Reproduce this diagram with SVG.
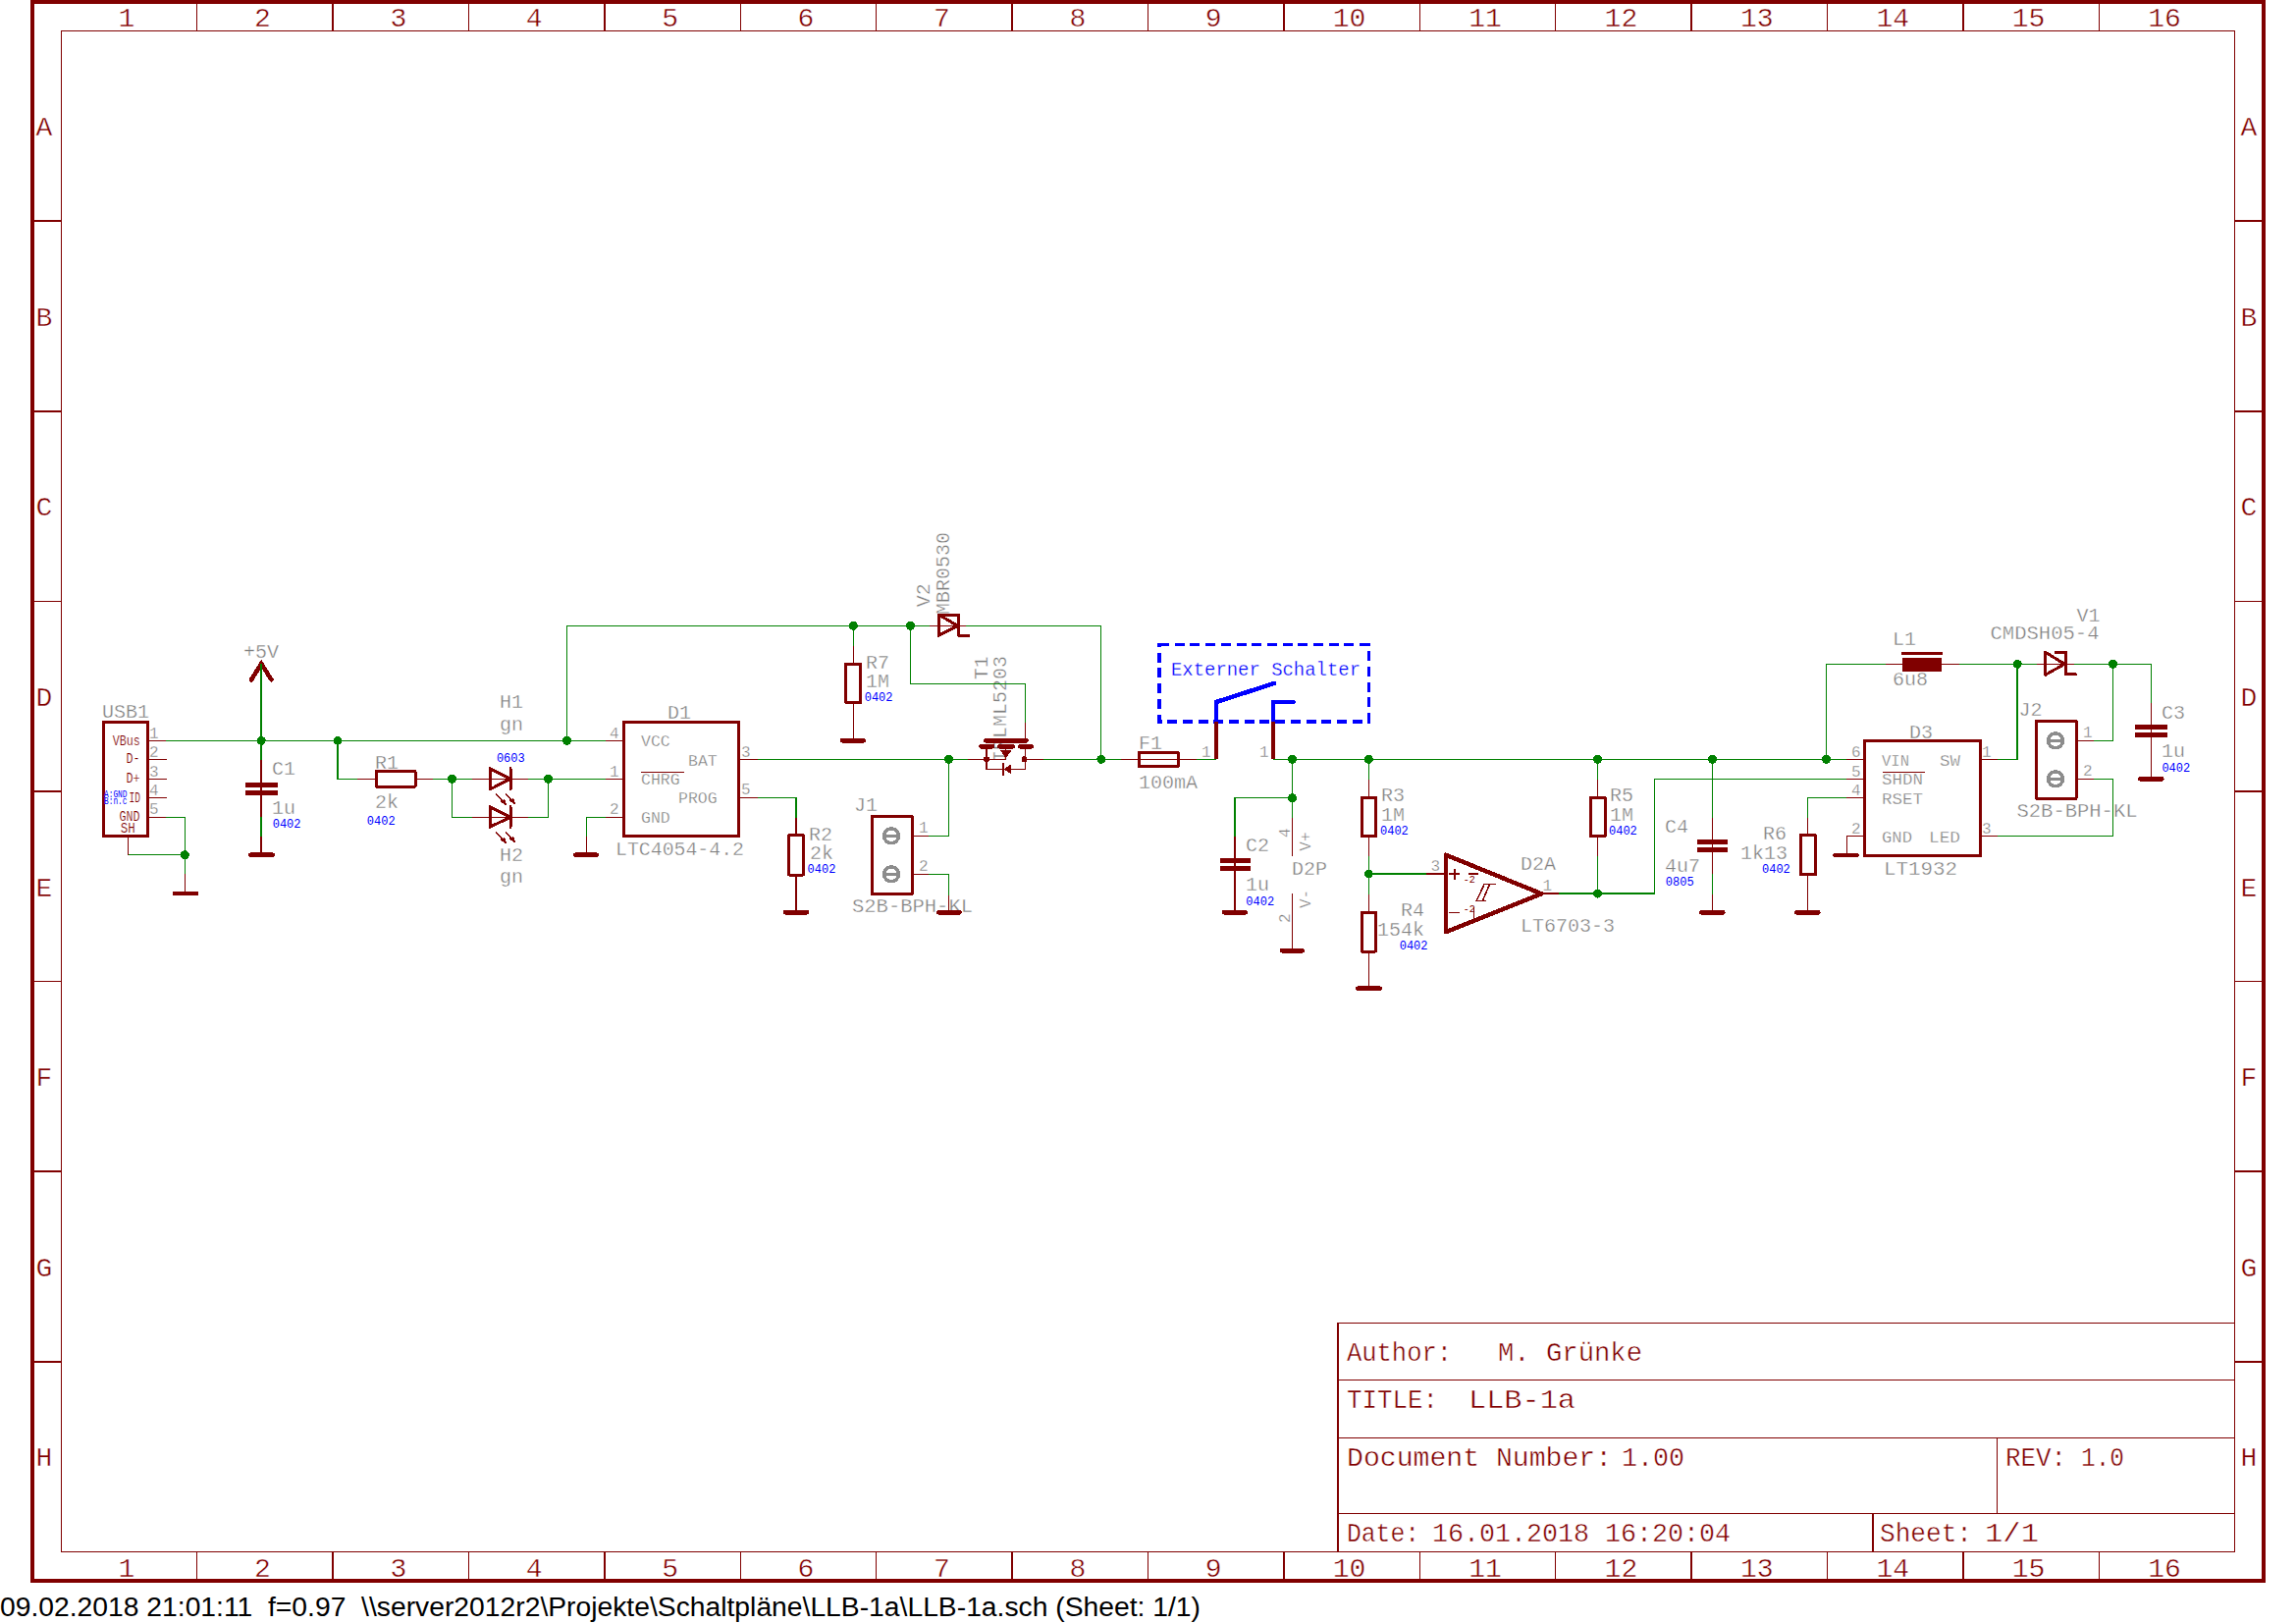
<svg xmlns="http://www.w3.org/2000/svg" width="2339" height="1654" viewBox="0 0 2339 1654" shape-rendering="crispEdges">
<style>
text{font-family:"Liberation Mono","DejaVu Sans Mono",monospace;white-space:pre}
.w{fill:none;stroke:#008000;stroke-width:1.5}
.p{fill:none;stroke:#800000;stroke-width:1.5}
.s{fill:none;stroke:#800000;stroke-width:3;stroke-linejoin:round;stroke-linecap:round}
.f{fill:#800000;stroke:none}
.g{fill:none;stroke:#800000;stroke-width:4.5;stroke-linecap:round}
.j{fill:#008000}
.t{fill:#808080;font-size:20px;stroke:#fff;stroke-width:.35}
.i{fill:#808080;font-size:16.5px;stroke:#fff;stroke-width:.3}
.n{fill:#808080;font-size:16px;stroke:#fff;stroke-width:.3}
.b{fill:#0000ff;font-size:12px}
.bs{fill:#0000ff;font-size:10px}
.u{fill:#800000;font-size:14px;stroke:#fff;stroke-width:.2}
.tb{fill:#800000;font-size:28px;stroke:#fff;stroke-width:.45}
.fl{fill:none;stroke:#800000;stroke-width:1.5}
.fo{fill:none;stroke:#800000;stroke-width:4}
.pad{fill:#fff;stroke:#8c8c8c;stroke-width:3.5}
.padl{stroke:#8c8c8c;stroke-width:3}
.bl{fill:none;stroke:#0000ff;stroke-width:4.5;stroke-linejoin:round;stroke-linecap:round}
</style>
<defs>
<g id="ledarrows">
<path class="p" d="M0 0L9 10M10 0L18 9"/>
<path class="f" d="M11.5 12.5L5 8.5L9 5ZM20.5 11.5L14 7.5L18 4Z"/>
</g>
<g id="pad">
<circle class="pad" r="7.5"/>
<path class="padl" d="M-7 0H7"/>
</g>
</defs>

<g id="frame">
<rect class="fo" x="33" y="2.3" width="2273.3" height="1607.7"/>
<rect class="fl" x="62.3" y="31.3" width="2214.4" height="1549"/>
<path class="fl" d="M200.7 2.3V31.3M339.1 2.3V31.3M477.5 2.3V31.3M615.9 2.3V31.3M754.3 2.3V31.3M892.7 2.3V31.3M1031.1 2.3V31.3M1169.5 2.3V31.3M1307.9 2.3V31.3M1446.3 2.3V31.3M1584.7 2.3V31.3M1723.1 2.3V31.3M1861.5 2.3V31.3M1999.9 2.3V31.3M2138.3 2.3V31.3"/>
<path class="fl" d="M200.7 1580.3V1610M339.1 1580.3V1610M477.5 1580.3V1610M615.9 1580.3V1610M754.3 1580.3V1610M892.7 1580.3V1610M1031.1 1580.3V1610M1169.5 1580.3V1610M1307.9 1580.3V1610M1446.3 1580.3V1610M1584.7 1580.3V1610M1723.1 1580.3V1610M1861.5 1580.3V1610M1999.9 1580.3V1610M2138.3 1580.3V1610"/>
<path class="fl" d="M33 225.2H62.3M33 418.8H62.3M33 612.4H62.3M33 806H62.3M33 999.6H62.3M33 1193.2H62.3M33 1386.8H62.3"/>
<path class="fl" d="M2276.7 225.2H2306.3M2276.7 418.8H2306.3M2276.7 612.4H2306.3M2276.7 806H2306.3M2276.7 999.6H2306.3M2276.7 1193.2H2306.3M2276.7 1386.8H2306.3"/>
<g class="tb" text-anchor="middle">
<text x="129" y="27">1</text><text x="267.4" y="27">2</text><text x="405.8" y="27">3</text><text x="544.2" y="27">4</text><text x="682.6" y="27">5</text><text x="821" y="27">6</text><text x="959.4" y="27">7</text><text x="1097.8" y="27">8</text><text x="1236.2" y="27">9</text><text x="1374.6" y="27">10</text><text x="1513" y="27">11</text><text x="1651.4" y="27">12</text><text x="1789.8" y="27">13</text><text x="1928.2" y="27">14</text><text x="2066.6" y="27">15</text><text x="2205" y="27">16</text>
<text x="129" y="1606">1</text><text x="267.4" y="1606">2</text><text x="405.8" y="1606">3</text><text x="544.2" y="1606">4</text><text x="682.6" y="1606">5</text><text x="821" y="1606">6</text><text x="959.4" y="1606">7</text><text x="1097.8" y="1606">8</text><text x="1236.2" y="1606">9</text><text x="1374.6" y="1606">10</text><text x="1513" y="1606">11</text><text x="1651.4" y="1606">12</text><text x="1789.8" y="1606">13</text><text x="1928.2" y="1606">14</text><text x="2066.6" y="1606">15</text><text x="2205" y="1606">16</text>
<text x="45" y="138">A</text><text x="45" y="332">B</text><text x="45" y="525">C</text><text x="45" y="719">D</text><text x="45" y="913">E</text><text x="45" y="1106">F</text><text x="45" y="1300">G</text><text x="45" y="1493">H</text>
<text x="2291" y="138">A</text><text x="2291" y="332">B</text><text x="2291" y="525">C</text><text x="2291" y="719">D</text><text x="2291" y="913">E</text><text x="2291" y="1106">F</text><text x="2291" y="1300">G</text><text x="2291" y="1493">H</text>
</g>
</g>

<g id="titleblock">
<path class="fl" d="M1363 1580V1347.3H2276.7M1363 1405.3H2276.7M1363 1464.3H2276.7M1363 1541.3H2276.7M2034.4 1464.3V1541.3M1908 1541.3V1580"/>
<g class="tb">
<text x="1372" y="1386" textLength="107" lengthAdjust="spacingAndGlyphs">Author:</text>
<text x="1526" y="1386" textLength="147" lengthAdjust="spacingAndGlyphs">M. Grünke</text>
<text x="1372" y="1434.3" textLength="93" lengthAdjust="spacingAndGlyphs">TITLE:</text>
<text x="1496" y="1434.3" textLength="109" lengthAdjust="spacingAndGlyphs">LLB-1a</text>
<text x="1372" y="1493.3" textLength="270" lengthAdjust="spacingAndGlyphs">Document Number:</text>
<text x="1652" y="1493.3" textLength="64" lengthAdjust="spacingAndGlyphs">1.00</text>
<text x="2043" y="1493.3" textLength="62" lengthAdjust="spacingAndGlyphs">REV:</text>
<text x="2120" y="1493.3" textLength="44" lengthAdjust="spacingAndGlyphs">1.0</text>
<text x="1372" y="1570" textLength="74" lengthAdjust="spacingAndGlyphs">Date:</text>
<text x="1459" y="1570" textLength="304" lengthAdjust="spacingAndGlyphs">16.01.2018 16:20:04</text>
<text x="1915" y="1570" textLength="94" lengthAdjust="spacingAndGlyphs">Sheet:</text>
<text x="2022" y="1570" textLength="55" lengthAdjust="spacingAndGlyphs">1/1</text>
</g>
</g>

<g id="USB1">
<rect class="s" x="105.3" y="735" width="45.1" height="116.7"/>
<path class="p" d="M150.4 754.3H169M150.4 773.3H170M150.4 793.3H170M150.4 812.3H170M150.4 832.3H169M130.6 851.7V870.7"/>
<text class="t" x="104" y="730.7">USB1</text>
<text class="n" x="152" y="751.7">1</text><text class="n" x="152" y="770.7">2</text><text class="n" x="152" y="790.7">3</text><text class="n" x="152" y="810">4</text><text class="n" x="152" y="829.3">5</text>
<text class="u" x="114.8" y="758.7" textLength="28" lengthAdjust="spacingAndGlyphs">VBus</text>
<text class="u" x="128.6" y="777.3" textLength="14" lengthAdjust="spacingAndGlyphs">D-</text>
<text class="u" x="128.6" y="796.7" textLength="14" lengthAdjust="spacingAndGlyphs">D+</text>
<text class="u" x="131.4" y="816.7" textLength="11.5" lengthAdjust="spacingAndGlyphs">ID</text>
<text class="u" x="121.5" y="836.3" textLength="21" lengthAdjust="spacingAndGlyphs">GND</text>
<text class="u" x="122.7" y="848.3" textLength="15" lengthAdjust="spacingAndGlyphs">SH</text>
<text class="bs" x="106" y="811.7" textLength="23.5" lengthAdjust="spacingAndGlyphs">A:GND</text>
<text class="bs" x="106" y="819.3" textLength="23.5" lengthAdjust="spacingAndGlyphs">B:n.c</text>
</g>
<g id="GND_USB"><path class="p" d="M188.3 890V910"/><path class="g" d="M177.7 910H200"/></g>

<g id="P5V">
<path class="g" d="M256 692.3L266.2 676L276.5 692.3"/>
<text class="t" x="248" y="670">+5V</text>
</g>

<g id="C1">
<path class="p" d="M266.2 774V831.7M266.2 851.7V870.7"/>
<path class="f" d="M250 797H283V801.7H250ZM250 805H283V810H250Z"/>
<path class="g" d="M255 870.7H277.7"/>
<text class="t" x="277" y="789.3">C1</text><text class="t" x="277" y="829">1u</text><text class="b" x="277.7" y="843.3">0402</text>
</g>

<g id="R1">
<path class="p" d="M364 793.3H383M423 793.3H440.6"/>
<rect class="s" x="383" y="785.7" width="40" height="15.3"/>
<text class="t" x="382" y="783.3">R1</text><text class="t" x="382" y="823">2k</text><text class="b" x="373.8" y="840">0402</text>
</g>

<g id="H1">
<path class="p" d="M480.5 793.3H537.5"/>
<path class="s" d="M499 782.7V804L520 793.3ZM520 782.7V804"/>
<use href="#ledarrows" x="505" y="808.3"/>
<text class="t" x="509" y="721">H1</text><text class="t" x="509" y="744">gn</text><text class="b" x="505.9" y="775.7">0603</text>
</g>
<g id="H2">
<path class="p" d="M480.5 832.3H537.5"/>
<path class="s" d="M499 821.7V842.3L520 832.3ZM520 821.7V842.3"/>
<use href="#ledarrows" x="505" y="847.3"/>
<text class="t" x="509" y="876.7">H2</text><text class="t" x="509" y="899.3">gn</text>
</g>

<g id="D1">
<rect class="s" x="635.6" y="735.3" width="117" height="116.4"/>
<path class="p" d="M616.6 754.3H635.6M616.6 793.3H635.6M616.6 832.3H635.6M752.6 773.3H772M752.6 812.3H772M653.4 786.7H697"/>
<text class="t" x="680" y="732">D1</text>
<text class="n" x="621" y="751.7">4</text><text class="n" x="621" y="790.7">1</text><text class="n" x="621" y="829.3">2</text><text class="n" x="755" y="770.7">3</text><text class="n" x="755" y="809.3">5</text>
<text class="i" x="653" y="760">VCC</text><text class="i" x="701" y="780">BAT</text><text class="i" x="653" y="799">CHRG</text><text class="i" x="691" y="818.3">PROG</text><text class="i" x="653" y="837.7">GND</text>
<text class="t" x="627" y="870.7" textLength="131" lengthAdjust="spacingAndGlyphs">LTC4054-4.2</text>
</g>
<g id="GND_D1"><path class="p" d="M597.6 851.7V870.7"/><path class="g" d="M586 870.7H608"/></g>

<g id="R2">
<path class="p" d="M810.8 832.7V850.7M810.8 891V929.3"/>
<rect class="s" x="803.6" y="850.7" width="14.7" height="40.3"/>
<path class="g" d="M799.7 929.3H822.2"/>
<text class="t" x="824" y="855.7">R2</text><text class="t" x="825" y="875">2k</text><text class="b" x="822.6" y="889">0402</text>
</g>

<g id="R7">
<path class="p" d="M869.3 658.3V676M869.3 715.7V754.3"/>
<rect class="s" x="861.8" y="676" width="15" height="39.7"/>
<path class="g" d="M857.8 754.3H880"/>
<text class="t" x="882" y="680.7">R7</text><text class="t" x="882" y="700.3">1M</text><text class="b" x="880.7" y="714">0402</text>
</g>

<g id="V2">
<path class="p" d="M947 637.3H984.3"/>
<path class="s" d="M956 626V647.3L975.6 637.3ZM956 626H976.4V647.3H986.7"/>
<text class="t" transform="translate(947.2 618.3) rotate(-90)">V2</text>
<text class="t" transform="translate(967 626) rotate(-90)">MBR0530</text>
</g>

<g id="T1">
<text class="t" transform="translate(1006 692.3) rotate(-90)">T1</text>
<text class="t" transform="translate(1025 776) rotate(-90)">IRLML5203</text>
<path class="p" d="M1044.4 736V754.3M985.5 773.3H1024.7M1043.6 773.3H1062.6"/>
<path class="g" d="M1004 754.3H1045.6M999.4 760.3H1011.2M1018 760.3H1031.8M1039 760.3H1050.8"/>
<path class="p" d="M1005 760.3V783.3H1044.4V760.3M1024.7 760.3V773.3"/>
<path class="f" d="M1019 764.3H1030.5L1024.7 772.3Z"/>
<circle class="f" cx="1005" cy="773.3" r="3"/><circle class="f" cx="1043.6" cy="773.3" r="3"/>
<path class="f" d="M1022.5 783.3L1029.5 778.5V788Z"/><path class="s" d="M1022 778V789" style="stroke-width:2"/>
</g>

<g id="J1">
<text class="t" x="868" y="929" textLength="123" lengthAdjust="spacingAndGlyphs">S2B-BPH-KL</text>
<rect class="s" x="888.6" y="831" width="40.4" height="79.7"/>
<path class="p" d="M930 851.3H946M930 890.3H946M966.5 911.7V929.3"/>
<use href="#pad" x="908" y="851.3"/><use href="#pad" x="908" y="890.3"/>
<path class="g" d="M955.9 929.3H977.6"/>
<text class="t" x="870" y="825.7">J1</text><text class="n" x="936" y="848.3">1</text><text class="n" x="936" y="886.7">2</text>
</g>

<g id="F1">
<path class="p" d="M1141.7 773.3H1218.6"/>
<rect class="s" x="1160" y="766.7" width="40.2" height="14"/>
<text class="t" x="1160" y="763.3">F1</text><text class="t" x="1160" y="802.7">100mA</text>
</g>

<g id="Schalter">
<rect x="1181" y="656.7" width="213.3" height="78.3" fill="none" stroke="#0000ff" stroke-width="3.5" stroke-dasharray="10 5.7"/>
<path class="bl" d="M1239 735V715L1297.9 696M1297 735V715H1317.5"/>
<path style="stroke:#800000;stroke-width:4;fill:none" d="M1239 735V773.3M1297 735V773.3"/>
<text x="1193" y="688.3" fill="#0000ff" font-size="20" stroke="#fff" stroke-width=".3" textLength="193" lengthAdjust="spacingAndGlyphs">Externer Schalter</text>
<text class="n" x="1224" y="770.7">1</text><text class="n" x="1283" y="770.7">1</text>
</g>

<g id="C2">
<path class="p" d="M1258.2 851.7V929.3"/>
<path class="f" d="M1242.5 874.3H1274V878.7H1242.5ZM1242.5 882.3H1274V886.7H1242.5Z"/>
<path class="g" d="M1246.8 929.3H1269"/>
<text class="t" x="1269" y="867.3">C2</text><text class="t" x="1269" y="906.7">1u</text><text class="b" x="1269.3" y="922">0402</text>
</g>

<g id="D2P">
<path class="p" d="M1316.4 833.3V871.7M1316.4 910V968.3"/>
<path class="g" d="M1305.7 968.3H1327"/>
<text class="t" x="1316" y="890.7">D2P</text>
<text class="n" transform="translate(1314 853) rotate(-90)">4</text><text class="n" transform="translate(1314 940) rotate(-90)">2</text>
<text class="n" transform="translate(1335.4 866.7) rotate(-90)">V+</text><text class="n" transform="translate(1335.4 925) rotate(-90)">V-</text>
</g>

<g id="R3">
<path class="p" d="M1394.3 794V812.3M1394.3 851.7V871.7"/>
<rect class="s" x="1387" y="812.3" width="14.4" height="39.4"/>
<text class="t" x="1407" y="815.7">R3</text><text class="t" x="1407" y="836">1M</text><text class="b" x="1406" y="850">0402</text>
</g>
<g id="R4">
<path class="p" d="M1394.3 910.7V929.3M1394.3 969V1006.7"/>
<rect class="s" x="1387" y="929.3" width="14.4" height="39.7"/>
<path class="g" d="M1382.9 1006.7H1405.7"/>
<text class="t" x="1427" y="932.7">R4</text><text class="t" x="1403" y="952.7">154k</text><text class="b" x="1425.7" y="966.7">0402</text>
</g>
<g id="R5">
<path class="p" d="M1627.5 794V812.3M1627.5 851.7V871.7"/>
<rect class="s" x="1620" y="812.3" width="15" height="39.4"/>
<text class="t" x="1640" y="815.7">R5</text><text class="t" x="1640" y="836">1M</text><text class="b" x="1639" y="850">0402</text>
</g>

<g id="D2A">
<path class="p" d="M1453.2 890H1473M1570.4 910H1588"/>
<path class="s" style="stroke-width:4.5" d="M1472.9 870.7V949.3L1570.4 910.3Z"/>
<path class="p" d="M1476.3 890H1487.3M1481.8 884.5V895.5M1476.4 929.3H1487M1496 890H1505.7M1501.4 923.8V934.8M1512 900.7H1523.6M1512 900.7L1504.3 917.3M1517.5 900.7L1510.4 917.3M1503.2 917.3H1514"/>
<text x="1490.7" y="899.3" fill="#800000" font-size="10">-2</text>
<text x="1490.7" y="928.7" fill="#800000" font-size="10">-2</text>
<text class="n" x="1457.5" y="887.3">3</text><text class="n" x="1571.5" y="906.7">1</text>
<text class="t" x="1549" y="885.7">D2A</text><text class="t" x="1549" y="949">LT6703-3</text>
</g>

<g id="C4">
<path class="p" d="M1744.4 832.7V890M1744.4 911V929.3"/>
<path class="f" d="M1728.5 855.3H1760V859.7H1728.5ZM1728.5 863.3H1760V868H1728.5Z"/>
<path class="g" d="M1733 929.3H1755.5"/>
<text class="t" x="1696" y="848.3">C4</text><text class="t" x="1696" y="887.7">4u7</text><text class="b" x="1696.8" y="902">0805</text>
</g>

<g id="R6">
<path class="p" d="M1841.3 832.7V850.7M1841.3 890.7V929.3"/>
<rect class="s" x="1834" y="850.7" width="15.5" height="40"/>
<path class="g" d="M1830 929.3H1852.4"/>
<text class="t" x="1796" y="855">R6</text><text class="t" x="1773" y="875">1k13</text><text class="b" x="1795" y="888.7">0402</text>
</g>

<g id="D3">
<rect class="s" x="1899" y="754" width="118.4" height="117.7"/>
<path class="p" d="M1881 773.3H1899M1881 793.3H1899M1881.3 812.3H1899M1899 851.3H1881.3V871M2017.4 773.3H2034.8M2017.4 851.3H2034.8M1917.5 786.3H1961"/>
<path class="g" d="M1869.4 871H1891.6"/>
<text class="t" x="1945" y="752.3">D3</text>
<text class="n" x="1886" y="771.3">6</text><text class="n" x="1886" y="790.7">5</text><text class="n" x="1886" y="810">4</text><text class="n" x="1886" y="848.7">2</text><text class="n" x="2019" y="771.3">1</text><text class="n" x="2019" y="848.7">3</text>
<text class="i" x="1917" y="780" textLength="28" lengthAdjust="spacingAndGlyphs">VIN</text><text class="i" x="1976" y="780" textLength="21" lengthAdjust="spacingAndGlyphs">SW</text>
<text class="i" x="1917" y="799.3" textLength="42" lengthAdjust="spacingAndGlyphs">SHDN</text><text class="i" x="1917" y="818.7" textLength="42" lengthAdjust="spacingAndGlyphs">RSET</text>
<text class="i" x="1917" y="857.7" textLength="31" lengthAdjust="spacingAndGlyphs">GND</text><text class="i" x="1965" y="857.7" textLength="32" lengthAdjust="spacingAndGlyphs">LED</text>
<text class="t" x="1919" y="890.7" textLength="75" lengthAdjust="spacingAndGlyphs">LT1932</text>
</g>

<g id="L1">
<path class="p" d="M1920.9 676.3H1996"/>
<path class="f" d="M1937.9 670.3H1978.2V683.7H1937.9ZM1937.2 663.5H1978.6V666.5H1937.2Z"/>
<text class="t" x="1928" y="656.7">L1</text><text class="t" x="1928" y="698.3">6u8</text>
</g>

<g id="V1">
<path class="p" d="M2074.8 676.3H2113"/>
<path class="s" d="M2083.7 664.3V687.3L2103.3 676.3ZM2094 664.3H2104.4V686.7H2114.4"/>
<text class="t" x="2115.5" y="633.3">V1</text><text class="t" x="2027.5" y="650.7" textLength="111" lengthAdjust="spacingAndGlyphs">CMDSH05-4</text>
</g>

<g id="J2">
<rect class="s" x="2074.4" y="734.3" width="40.6" height="79"/>
<path class="p" d="M2116 754.3H2132.9M2116 793.3H2132.9"/>
<use href="#pad" x="2094" y="754.3"/><use href="#pad" x="2094" y="793.3"/>
<text class="t" x="2056.5" y="729">J2</text><text class="n" x="2122" y="751.3">1</text><text class="n" x="2122" y="790">2</text>
<text class="t" x="2054.5" y="831.7" textLength="123" lengthAdjust="spacingAndGlyphs">S2B-BPH-KL</text>
</g>

<g id="C3">
<path class="p" d="M2191.3 716V793.3"/>
<path class="f" d="M2175 738.3H2208V742.7H2175ZM2175 746H2208V750.7H2175Z"/>
<path class="g" d="M2180.2 793.3H2202.4"/>
<text class="t" x="2202" y="731.7">C3</text><text class="t" x="2202" y="770.7">1u</text><text class="b" x="2202.4" y="786">0402</text>
</g>

<g id="connectors">
<path class="w" d="M169 754.3H616.6"/>
<path class="w" d="M266.2 754.3V676"/>
<path class="w" d="M266.2 754.3V774M266.2 831.7V851.7"/>
<path class="w" d="M344 754.3V793.3H364"/>
<path class="w" d="M440.6 793.3H480.5M537.5 793.3H616.6"/>
<path class="w" d="M460.4 793.3V832.3H480.5M558.5 793.3V832.3H537.5"/>
<path class="w" d="M169 832.3H188.3V890"/>
<path class="w" d="M130.6 870.7H188.3"/>
<path class="w" d="M616.6 832.3H597.6V851.7"/>
<path class="w" d="M577.4 754.3V637.3H947M984.3 637.3H1121.4V773.3"/>
<path class="w" d="M869.3 637.3V658.3"/>
<path class="w" d="M927.4 637.3V696.3H1044.4V736"/>
<path class="w" d="M772 773.3H985.5"/>
<path class="w" d="M966.5 773.3V851.3H946"/>
<path class="w" d="M772 812.3H810.8V832.7"/>
<path class="w" d="M946 890.3H966.5V911.7"/>
<path class="w" d="M1062.6 773.3H1141.7"/>
<path class="w" d="M1218.6 773.3H1239"/>
<path class="w" d="M1297 773.3H1881"/>
<path class="w" d="M1316.4 773.3V833.3M1316.4 812.7H1258.2V851.7"/>
<path class="w" d="M1394.3 773.3V794M1394.3 871.7V910.7"/>
<path class="w" d="M1394.3 890H1453.2"/>
<path class="w" d="M1627.5 773.3V794M1627.5 871.7V910"/>
<path class="w" d="M1588 910H1685.4V793.3H1881"/>
<path class="w" d="M1744.4 773.3V832.7M1744.4 890V911"/>
<path class="w" d="M1860.6 773.3V676.3H1920.9M1996 676.3H2074.8M2113 676.3H2191.3V716"/>
<path class="w" d="M2055.2 676.3V773.3H2034.8"/>
<path class="w" d="M2152.5 676.3V754.3H2132.9"/>
<path class="w" d="M2034.8 851.3H2152.5V793.3H2132.9"/>
<path class="w" d="M1881.3 812.3H1841.3V832.7"/>
<g class="j">
<circle cx="266.2" cy="754.3" r="4.5"/><circle cx="344" cy="754.3" r="4.5"/><circle cx="577.4" cy="754.3" r="4.5"/>
<circle cx="460.4" cy="793.3" r="4.5"/><circle cx="558.5" cy="793.3" r="4.5"/><circle cx="188.3" cy="870.7" r="4.5"/>
<circle cx="869.3" cy="637.3" r="4.5"/><circle cx="927.4" cy="637.3" r="4.5"/><circle cx="966.5" cy="773.3" r="4.5"/><circle cx="1121.8" cy="773.3" r="4.5"/>
<circle cx="1316.4" cy="773.3" r="4.5"/><circle cx="1394.3" cy="773.3" r="4.5"/><circle cx="1627.5" cy="773.3" r="4.5"/><circle cx="1744.4" cy="773.3" r="4.5"/><circle cx="1860.6" cy="773.3" r="4.5"/>
<circle cx="1316.4" cy="812.7" r="4.5"/><circle cx="1394.3" cy="890" r="4.5"/><circle cx="1627.5" cy="910" r="4.5"/>
<circle cx="2055.2" cy="676.3" r="4.5"/><circle cx="2152.5" cy="676.3" r="4.5"/>
</g>
</g>

<text x="0" y="1646" fill="#000" font-size="27" textLength="1223" lengthAdjust="spacingAndGlyphs" style="font-family:'Liberation Sans',Arial,sans-serif">09.02.2018 21:01:11  f=0.97  \\server2012r2\Projekte\Schaltpläne\LLB-1a\LLB-1a.sch (Sheet: 1/1)</text>
</svg>
